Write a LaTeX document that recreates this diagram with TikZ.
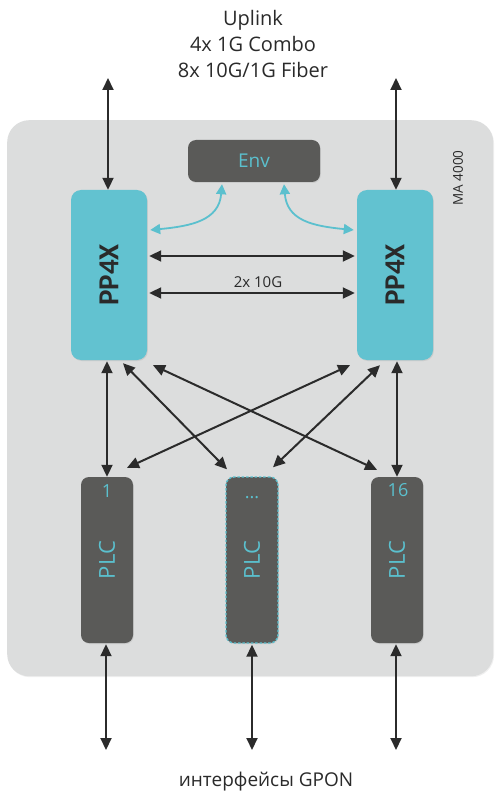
\documentclass[tikz,border=0pt]{standalone}
\usepackage{fontspec}
\usepackage{graphicx}
\setmainfont{Open Sans}
\newfontfamily\ppfont{Carlito}
\usetikzlibrary{arrows.meta,shadows,calc}
\definecolor{panel}{HTML}{DCDDDD}
\definecolor{darkbox}{HTML}{5A5A58}
\definecolor{cyanbox}{HTML}{62C2D0}
\definecolor{cyantext}{HTML}{5BC0CE}
\definecolor{arrowc}{HTML}{2B2B2B}
\definecolor{labeltext}{HTML}{2A2A2A}
\begin{document}
\begin{tikzpicture}[x=1pt,y=-1pt,
  softshadow/.style={drop shadow={shadow xshift=0.8pt,shadow yshift=-1pt,opacity=0.18}},
  ppbox/.style={fill=cyanbox, rounded corners=10pt, minimum width=76pt, minimum height=170pt, inner sep=0pt, softshadow,
    font=\ppfont\fontsize{29}{30}\selectfont\bfseries, text=labeltext},
  plcbox/.style={fill=darkbox, rounded corners=8pt, minimum width=52pt, minimum height=166pt, inner sep=0pt, softshadow,
    font=\fontsize{22}{24}\selectfont, text=cyantext},
  envbox/.style={fill=darkbox, rounded corners=8pt, minimum width=132pt, minimum height=42pt, inner sep=0pt, softshadow,
    font=\fontsize{19}{20}\selectfont, text=cyantext},
  numlabel/.style={font=\fontsize{18}{18}\selectfont, text=cyantext, inner sep=0pt},
  link/.style={draw=arrowc, line width=2pt, {Triangle[length=12pt,width=11pt]}-{Triangle[length=12pt,width=11pt]}},
  envlink/.style={draw=cyantext, line width=1.8pt, {Triangle[length=10pt,width=10pt]}-{Triangle[length=10pt,width=10pt]}},
  plaintext/.style={text=labeltext, inner sep=0pt}
]
\useasboundingbox (0,0) rectangle (495,791);
\fill[white] (0,0) rectangle (495,791);

% panel
\node[fill=panel, rounded corners=22pt, minimum width=486pt, minimum height=556pt, anchor=north west, inner sep=0pt,
  drop shadow={shadow xshift=0.8pt,shadow yshift=-1pt,opacity=0.12}] (panel) at (7,120) {};

% boxes
\node[envbox] (env) at (254,161) {Env};
\node[ppbox] (ppL) at (109,275) {\rotatebox{90}{PP4X}};
\node[ppbox] (ppR) at (395,275) {\rotatebox{90}{PP4X}};
\node[plcbox] (plcL) at (107,560) {\rotatebox{90}{PLC}};
\node[plcbox, draw=cyantext, line width=1.4pt, dash pattern=on 2.5pt off 1.8pt] (plcM) at (252,560) {\rotatebox{90}{PLC}};
\node[plcbox] (plcR) at (397,560) {\rotatebox{90}{PLC}};

\node[numlabel] (n1) at (107,491) {1};
\node[numlabel, anchor=base] (n2) at (252,498) {...};
\node[numlabel] (n16) at (398,490) {16};

% texts
\node[plaintext, align=center, font=\fontsize{20}{26}\selectfont] (uplink) at (253,44) {Uplink\\4x 1G Combo\\8x 10G/1G Fiber};
\node[plaintext, font=\fontsize{19}{20}\selectfont, anchor=base] (gpon) at (266,786) {интерфейсы GPON};
\node[plaintext, font=\fontsize{13.5}{15}\selectfont, rotate=90] (ma) at (458,178) {MA 4000};
\node[plaintext, font=\fontsize{15}{16}\selectfont] (tenG) at (258,282) {2x 10G};

% uplink arrows
\coordinate (upL) at (108,78);
\coordinate (upR) at (396,78);
\draw[link] (upL) -- (upL |- ppL.north);
\draw[link] (upR) -- (upR |- ppR.north);

% PP4X interconnect
\coordinate (h1) at (0,256);
\coordinate (h2) at (0,293);
\draw[link] ($(ppL.east |- h1)+(2,0)$) -- ($(ppR.west |- h1)+(-2,0)$);
\draw[link] ($(ppL.east |- h2)+(2,0)$) -- ($(ppR.west |- h2)+(-2,0)$);

% Env links
\draw[envlink] ($(env.south)+(-32,2)$) .. controls +(-3,36) and +(42,-4) .. ($(ppL.east)+(3,-45)$);
\draw[envlink] ($(env.south)+(30,2)$) .. controls +(3,36) and +(-42,-4) .. ($(ppR.west)+(-3,-45)$);

% PP4X to PLC
\draw[link] ($(plcL.north |- ppL.south)+(0,1)$) -- (plcL.north);
\draw[link] ($(plcR.north |- ppR.south)+(0,1)$) -- (plcR.north);
\draw[link] ($(ppL.south)+(14,3)$) -- ($(plcM.north)+(-25,-7)$);
\draw[link] ($(ppL.south)+(44,5)$) -- ($(plcR.north)+(-20,-7)$);
\draw[link] ($(ppR.south)+(-45,5)$) -- ($(plcL.north)+(20,-9)$);
\draw[link] ($(ppR.south)+(-15,5)$) -- ($(plcM.north)+(21,-9)$);

% GPON arrows
\coordinate (gL) at (106,750);
\coordinate (gM) at (252,750);
\coordinate (gR) at (396,750);
\draw[link] ($(plcL.south)+(-1,1)$) -- (gL);
\draw[link] ($(plcM.south)+(0,1)$) -- (gM);
\draw[link] ($(plcR.south)+(-1,1)$) -- (gR);
\end{tikzpicture}
\end{document}
